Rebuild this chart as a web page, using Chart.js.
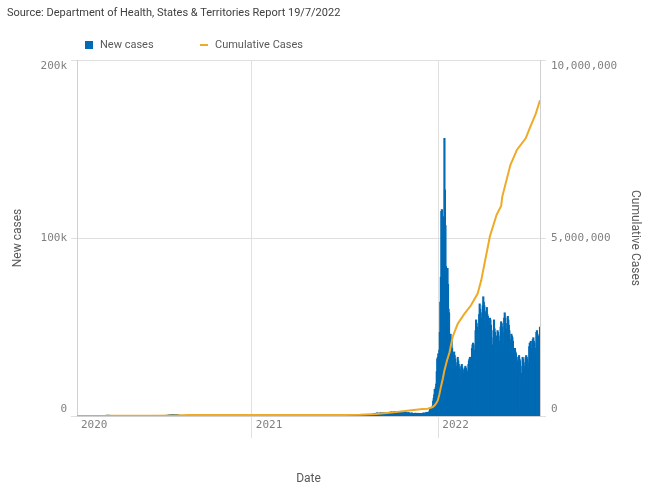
<!DOCTYPE html>
<html>
<head>
<meta charset="utf-8">
<script src="https://cdn.jsdelivr.net/npm/chart.js@4.4.1/dist/chart.umd.min.js"></script>
<style>
  body { margin: 0; background: #fff; font-family: Roboto, sans-serif; }
  #wrap { position: relative; width: 650px; height: 491px; }
  #source { position: absolute; left: 7px; top: 6px; font-size: 11px; line-height: 14px; color: #404040; }
  .legend-item { position: absolute; top: 37px; height: 15px; display: flex; align-items: center; font-size: 11px; color: #595959; }
  .swatch { display: inline-block; margin-right: 7px; }
</style>
</head>
<body>
<div id="wrap">
  <canvas id="chart" width="650" height="491"></canvas>
  <div id="source">Source: Department of Health, States &amp; Territories Report 19/7/2022</div>
  <div class="legend-item" style="left:85px"><span class="swatch" style="width:8px;height:8px;background:#006ab4"></span>New cases</div>
  <div class="legend-item" style="left:200px"><span class="swatch" style="width:8px;height:2px;background:#eeaa28"></span>Cumulative Cases</div>
</div>
<script>
// daily new cases, first day is 25 Jan 2020
const startDate = '2020-01-25';

const cases2020 = [
  // Jan 25-31
  1, 0, 1, 1, 0, 1, 0,
  // Feb
  1, 2, 0, 0, 0, 0, 0, 0, 0, 0, 0, 0, 0, 0, 0, 0, 0, 0, 0, 0, 0, 2, 0, 0, 0, 0, 0, 0, 1,
  // Mar
  3, 5, 8, 11, 12, 10, 15, 19, 16, 20, 24, 32, 49, 57, 61, 87, 112, 165, 211, 263, 330, 360, 420, 456, 432, 390, 410, 460, 350, 330, 300,
  // Apr
  280, 260, 230, 200, 150, 120, 95, 90, 80, 70, 60, 50, 40, 35, 30, 25, 30, 25, 20, 18, 15, 14, 12, 13, 12, 10, 11, 9, 10, 12,
  // May
  18, 15, 12, 10, 14, 20, 16, 14, 12, 10, 11, 15, 18, 20, 16, 14, 12, 10, 9, 11, 13, 15, 12, 10, 12, 16, 20, 15, 12, 14, 10,
  // Jun
  12, 10, 14, 16, 20, 18, 15, 12, 10, 14, 18, 16, 20, 22, 18, 25, 28, 30, 32, 35, 40, 38, 45, 50, 55, 60, 65, 70, 75, 80,
  // Jul
  85, 90, 100, 110, 120, 140, 160, 180, 200, 240, 260, 280, 300, 320, 340, 360, 400, 420, 380, 400, 450, 500, 520, 550, 560, 580, 600, 620, 650, 700, 680,
  // Aug
  720, 690, 650, 620, 700, 680, 640, 600, 560, 520, 480, 450, 420, 380, 350, 320, 290, 260, 240, 220, 200, 180, 170, 150, 140, 130, 120, 110, 100, 90, 80,
  // Sep
  75, 70, 65, 60, 55, 50, 45, 40, 38, 35, 32, 30, 28, 25, 22, 20, 20, 18, 18, 16, 15, 15, 14, 13, 12, 12, 12, 11, 10, 10,
  // Oct
  12, 10, 14, 16, 12, 10, 14, 12, 10, 15, 18, 14, 12, 10, 8, 10, 12, 14, 10, 8, 9, 10, 12, 10, 8, 7, 9, 10, 8, 6, 8,
  // Nov
  7, 8, 6, 10, 9, 8, 7, 6, 8, 10, 9, 8, 7, 9, 10, 12, 11, 9, 8, 7, 6, 8, 9, 10, 8, 7, 9, 10, 8, 9,
  // Dec
  10, 12, 9, 8, 10, 11, 9, 8, 10, 12, 9, 8, 10, 12, 14, 18, 30, 28, 40, 35, 30, 25, 20, 18, 16, 14, 20, 18, 15, 20, 24
];

const cases2021 = [
  // Jan
  20, 18, 15, 12, 10, 14, 12, 10, 9, 8, 10, 12, 9, 8, 10, 12, 9, 8, 7, 9, 10, 8, 7, 6, 8, 9, 10, 8, 7, 6, 8,
  // Feb
  9, 10, 8, 7, 9, 10, 12, 14, 10, 8, 9, 10, 12, 14, 10, 8, 7, 9, 8, 6, 7, 8, 9, 7, 6, 8, 9, 7,
  // Mar
  8, 9, 10, 8, 7, 9, 10, 8, 9, 12, 10, 8, 9, 10, 12, 14, 10, 9, 8, 10, 12, 14, 10, 8, 12, 15, 18, 20, 22, 18, 16,
  // Apr
  14, 12, 10, 9, 8, 10, 12, 14, 10, 9, 8, 7, 9, 10, 12, 14, 10, 8, 9, 10, 12, 14, 10, 9, 8, 10, 12, 14, 10, 9,
  // May
  8, 10, 12, 9, 8, 7, 10, 12, 9, 8, 10, 12, 9, 8, 7, 9, 10, 8, 9, 10, 12, 14, 16, 18, 20, 22, 24, 20, 18, 16, 14,
  // Jun
  15, 14, 12, 10, 12, 14, 10, 9, 12, 14, 16, 12, 10, 9, 12, 14, 18, 20, 22, 26, 30, 35, 40, 45, 50, 55, 45, 40, 38, 35,
  // Jul
  30, 35, 40, 45, 40, 35, 40, 45, 50, 60, 80, 95, 110, 105, 100, 120, 115, 120, 130, 140, 150, 170, 180, 190, 200, 170, 180, 190, 200, 220, 240,
  // Aug
  260, 250, 260, 300, 320, 350, 360, 380, 410, 400, 430, 460, 500, 520, 550, 600, 650, 720, 750, 820, 850, 900, 920, 950, 1000, 1150, 1100, 1150, 1250, 1300, 1350,
  // Sep
  1500, 1600, 1700, 1750, 1550, 1500, 1400, 1550, 1700, 1800, 1700, 1600, 1550, 1650, 1700, 1750, 1800, 1650, 1600, 1700, 1800, 1900, 2000, 2050, 1850, 1800, 1900, 2000, 2100, 2200,
  // Oct
  2300, 2200, 2100, 2000, 2100, 2300, 2400, 2300, 2200, 2000, 1900, 1900, 2400, 2600, 2500, 2400, 2200, 2100, 2200, 2300, 2600, 2700, 2400, 2300, 2200, 2100, 2300, 2400, 2100, 1900, 1800,
  // Nov
  1700, 1600, 1800, 1900, 1700, 1600, 1500, 1400, 1600, 1700, 1650, 1500, 1400, 1300, 1250, 1500, 1600, 1550, 1400, 1300, 1200, 1300, 1550, 1500, 1450, 1400, 1300, 1250, 1350, 1400,
  // Dec
  1500, 1600, 1700, 1600, 1400, 1500, 1700, 1900, 2000, 2100, 2100, 2000, 2000, 2300, 2900, 3800, 4200, 4800, 4300, 4600, 5700, 8400, 10000, 12000, 15000, 14000, 16000, 18000, 25000, 32000, 33000
];

const cases2022 = [
  // Jan
  35000, 30000, 37000, 47000, 64000, 78000, 115000, 116000, 100000, 83000, 104000, 112000, 156000, 127000, 107000, 84000,
  75000, 82000, 83000, 74000, 60000, 58000, 43000, 35000, 46000, 44000, 43000, 38000, 34000, 28000, 27000,
  // Feb
  36000, 34000, 32000, 30000, 28000, 24000, 22000, 33000, 31000, 29000, 27000, 26000, 22000, 20000,
  28000, 29000, 27000, 26000, 24000, 21000, 20000, 27000, 28000, 27000, 26000, 25000, 22000, 21000,
  // Mar
  29000, 31000, 32000, 33000, 31000, 27000, 26000, 38000, 40000, 41000, 40000, 37000, 33000, 31000, 48000, 54000,
  52000, 50000, 48000, 42000, 40000, 57000, 63000, 60000, 58000, 55000, 48000, 45000, 62000, 67000, 64000,
  // Apr
  62000, 58000, 50000, 46000, 59000, 61000, 57000, 56000, 53000, 46000, 42000, 55000, 54000, 51000, 44000,
  40000, 35000, 34000, 48000, 54000, 49000, 47000, 43000, 37000, 30000, 45000, 48000, 47000, 45000, 42000,
  // May
  36000, 33000, 50000, 53000, 52000, 50000, 47000, 40000, 37000, 55000, 58000, 55000, 52000, 49000, 42000, 38000,
  56000, 54000, 51000, 48000, 43000, 37000, 33000, 46000, 45000, 44000, 42000, 38000, 33000, 29000, 38000,
  // Jun
  36000, 35000, 33000, 31000, 26000, 23000, 33000, 34000, 32000, 31000, 28000, 24000, 19000, 22000, 33000,
  32000, 30000, 28000, 24000, 21000, 33000, 34000, 33000, 32000, 30000, 27000, 25000, 39000, 41000, 40000,
  // Jul 1-19
  42000, 38000, 32000, 30000, 43000, 44000, 42000, 41000, 38000, 33000, 31000, 47000, 48000, 46000, 45000, 42000, 37000, 36000, 50000
];

// cumulative cases read at points along the line
const cumDates = [
  '2020-01-25', '2020-03-01', '2020-03-15', '2020-04-01', '2020-05-01', '2020-07-01', '2020-08-01', '2020-09-01',
  '2020-10-01', '2021-01-01', '2021-07-01', '2021-08-01', '2021-09-01', '2021-10-01', '2021-11-01', '2021-12-01',
  '2021-12-11', '2021-12-21', '2021-12-25', '2021-12-28', '2021-12-31', '2022-01-03', '2022-01-06', '2022-01-10',
  '2022-01-13', '2022-01-18', '2022-01-23', '2022-01-29', '2022-02-08', '2022-02-21', '2022-03-06', '2022-03-19',
  '2022-03-26', '2022-04-01', '2022-04-12', '2022-04-25', '2022-05-04', '2022-05-06', '2022-05-22', '2022-06-04',
  '2022-06-21', '2022-06-30', '2022-07-11', '2022-07-19'
];
const cumValues = [
  0, 30, 300, 4900, 6800, 7900, 17000, 25700,
  27100, 28400, 30500, 34000, 54000, 95000, 150000, 195000,
  203000, 250000, 300000, 360000, 436000, 600000, 810000, 1060000,
  1280000, 1560000, 1790000, 2220000, 2590000, 2870000, 3110000, 3440000,
  3810000, 4250000, 5050000, 5650000, 5900000, 6150000, 7050000, 7480000,
  7800000, 8120000, 8500000, 8870000
];

const yearTickDates = ['2020-01-25', '2021-01-01', '2022-01-01'];
const yearLabels = ['2020', '2021', '2022'];
const leftTicks = [0, 100000, 200000];
const leftTickLabels = ['0', '100k', '200k'];
const rightTicks = [0, 5000000, 10000000];
const rightTickLabels = ['0', '5,000,000', '10,000,000'];

const blue = '#006ab4';
const orange = '#eeaa28';
const gridColor = '#e0e0e0';
const axisColor = '#d0d0d0';
const tickColor = '#808080';
const titleColor = '#595959';
const tickFont = { family: 'DejaVu Sans Mono', size: 11 };
const titleFont = { family: 'Roboto', size: 12 };

const dayIndex = s => (Date.parse(s) - Date.parse(startDate)) / 86400000;
const newCases = cases2020.concat(cases2021, cases2022);
const barPoints = newCases.map((v, i) => ({ x: i, y: v }));
const linePoints = cumDates.map((d, i) => ({ x: dayIndex(d), y: cumValues[i] }));
const yearTicks = yearTickDates.map(dayIndex);

// keep the top and bottom labels inside the plot, like the original
function edgeLabel(labels, i) {
  if (i === 0) return [labels[i], ''];
  if (i === labels.length - 1) return ['', labels[i]];
  return labels[i];
}

Chart.defaults.font.family = 'Roboto';

new Chart(document.getElementById('chart'), {
  type: 'bar',
  data: {
    datasets: [{
      label: 'New cases',
      data: barPoints,
      backgroundColor: blue,
      barThickness: 1.5,
      yAxisID: 'y',
      order: 1
    }, {
      type: 'line',
      label: 'Cumulative Cases',
      data: linePoints,
      borderColor: orange,
      borderWidth: 2,
      pointRadius: 0,
      tension: 0,
      yAxisID: 'y1',
      order: 0
    }]
  },
  options: {
    responsive: false,
    animation: false,
    layout: { padding: { top: 60, left: 7, right: 0, bottom: 0 } },
    plugins: {
      legend: { display: false },
      tooltip: { enabled: false }
    },
    scales: {
      x: {
        type: 'linear',
        min: 0,
        max: newCases.length - 1,
        offset: false,
        afterFit: s => { s.height = 75; },
        afterBuildTicks: s => { s.ticks = yearTicks.map(v => ({ value: v })); },
        ticks: {
          align: 'start',
          labelOffset: 4,
          padding: -19,
          maxRotation: 0,
          autoSkip: false,
          font: tickFont,
          color: tickColor,
          callback: (v, i) => yearLabels[i]
        },
        grid: {
          offset: false,
          tickLength: 22,
          color: ctx => ctx.index === 0 ? 'rgba(0,0,0,0)' : gridColor
        },
        border: { color: axisColor },
        title: { display: true, text: 'Date', color: titleColor, font: titleFont, padding: { top: 0, bottom: 5 } }
      },
      y: {
        position: 'left',
        min: 0,
        max: 200000,
        afterFit: s => { s.width = 70; },
        afterBuildTicks: s => { s.ticks = leftTicks.map(v => ({ value: v })); },
        ticks: {
          padding: 4,
          font: tickFont,
          color: tickColor,
          callback: (v, i) => edgeLabel(leftTickLabels, i)
        },
        grid: { color: gridColor, tickLength: 6 },
        border: { color: axisColor },
        title: { display: true, text: 'New cases', color: titleColor, font: titleFont, padding: { top: 4, bottom: 0 } }
      },
      y1: {
        position: 'right',
        min: 0,
        max: 10000000,
        afterFit: s => { s.width = 110; },
        afterBuildTicks: s => { s.ticks = rightTicks.map(v => ({ value: v })); },
        ticks: {
          padding: 5,
          font: tickFont,
          color: tickColor,
          callback: (v, i) => edgeLabel(rightTickLabels, i)
        },
        grid: { drawOnChartArea: false, color: gridColor, tickLength: 6 },
        border: { color: axisColor },
        title: { display: true, text: 'Cumulative Cases', color: titleColor, font: titleFont, padding: { top: 8, bottom: 0 } }
      }
    }
  }
});
</script>
</body>
</html>
